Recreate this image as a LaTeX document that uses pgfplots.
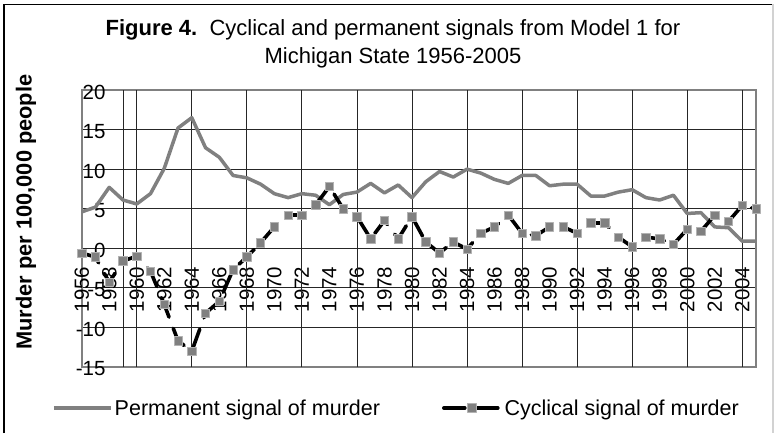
\documentclass[border=0pt]{standalone}
\usepackage{pgfplots}
\pgfplotsset{compat=1.18}
\usepackage{fontspec}
\setmainfont{Liberation Sans}
\definecolor{exgray}{HTML}{808080}
\pgfplotstableread{
year perm
1956 4.6
1957 5.2
1958 7.7
1959 6.1
1960 5.6
1961 6.9
1962 10.1
1963 15.2
1964 16.5
1965 12.7
1966 11.5
1967 9.2
1968 8.9
1969 8.1
1970 6.9
1971 6.4
1972 6.9
1973 6.7
1974 5.5
1975 6.8
1976 7.1
1977 8.2
1978 7.0
1979 8.0
1980 6.4
1981 8.4
1982 9.7
1983 9.0
1984 10.0
1985 9.5
1986 8.7
1987 8.2
1988 9.2
1989 9.2
1990 7.9
1991 8.1
1992 8.1
1993 6.6
1994 6.6
1995 7.1
1996 7.4
1997 6.4
1998 6.1
1999 6.7
2000 4.4
2001 4.5
2002 2.7
2003 2.6
2004 0.9
2005 0.9
}\permtable
\pgfplotstableread{
year cyc
1956 -0.6
1957 -1.1
1958 -4.3
1959 -1.6
1960 -1.0
1961 -2.9
1962 -7.1
1963 -11.7
1964 -13.0
1965 -8.2
1966 -6.7
1967 -2.7
1968 -1.1
1969 0.7
1970 2.7
1971 4.2
1972 4.2
1973 5.5
1974 7.8
1975 5.0
1976 4.0
1977 1.2
1978 3.5
1979 1.2
1980 4.0
1981 0.8
1982 -0.6
1983 0.8
1984 -0.1
1985 1.9
1986 2.7
1987 4.2
1988 1.9
1989 1.6
1990 2.7
1991 2.7
1992 1.9
1993 3.2
1994 3.2
1995 1.4
1996 0.2
1997 1.4
1998 1.2
1999 0.5
2000 2.4
2001 2.15
2002 4.2
2003 3.4
2004 5.4
2005 5.0
}\cyctable
\begin{document}
\begin{tikzpicture}[x=1pt,y=1pt]
\path[use as bounding box] (0pt,0pt) rectangle (775pt,433pt);
\draw[black, line width=1.5pt] (4pt,0pt) -- (4pt,428.5pt) -- (773pt,428.5pt);
\draw[gray!35, line width=1.5pt] (773pt,428.5pt) -- (773pt,0pt);
\node[font=\fontsize{22}{28}\selectfont, align=center] at (393pt,389pt) {\textbf{Figure 4.}\ \ Cyclical and permanent signals from Model 1 for\\Michigan State 1956-2005};
\node[rotate=90, font=\fontsize{21.8}{25}\selectfont] at (26pt,221pt) {\textbf{Murder per 100,000 people}};
\begin{axis}[
  at={(81.7pt,66pt)}, anchor=south west,
  width=674.3pt, height=277pt, scale only axis,
  xmin=1956, xmax=2005, ymin=-15, ymax=20,
  xtick={1956,1958,...,2004},
  ytick={-15,-10,...,20},
  ymajorgrids,
  major grid style={black!85, line width=0.8pt},
  extra x ticks={1959,1960,1964,1968,1972,1976,1980,1984,1988,1992,1996,2000,2004},
  extra x tick labels={},
  extra x tick style={grid=major},
  major tick length=0pt,
  axis line style={exgray, line width=1.6pt},
  clip=false,
  /pgf/number format/assume math mode=true,
  /pgf/number format/1000 sep={},
  xticklabel style={yshift=101.5pt, rotate=90, anchor=east, inner sep=1pt, font=\fontsize{20.5}{24}\selectfont},
  yticklabel style={xshift=25pt, yshift=-2pt, anchor=east, inner sep=1pt, font=\fontsize{20.5}{24}\selectfont},
  legend style={at={(axis description cs:-0.044,-0.148)}, anchor=west, draw=none, fill=none, inner sep=0pt,
    font=\fontsize{21.5}{25}\selectfont, legend columns=2,
    /tikz/every even column/.append style={column sep=60pt}},
  legend cell align=left,
  legend image code/.code={\draw[mark repeat=2, mark phase=2, #1] plot coordinates {(0pt,0pt) (28pt,0pt) (57pt,0pt)};},
]
\addplot[exgray, line width=3.5pt, line join=round] table[x=year, y=perm] {\permtable};
\addlegendentry{Permanent signal of murder}
\addplot[black, line width=3.6pt, dash pattern=on 21pt off 12pt, line cap=round, line join=round,
  mark=square*, mark size=4.2pt, mark options={solid, fill=exgray, draw=gray!60, line width=0.6pt}]
  table[x=year, y=cyc] {\cyctable};
\addlegendentry{Cyclical signal of murder}
\end{axis}
\end{tikzpicture}
\end{document}
